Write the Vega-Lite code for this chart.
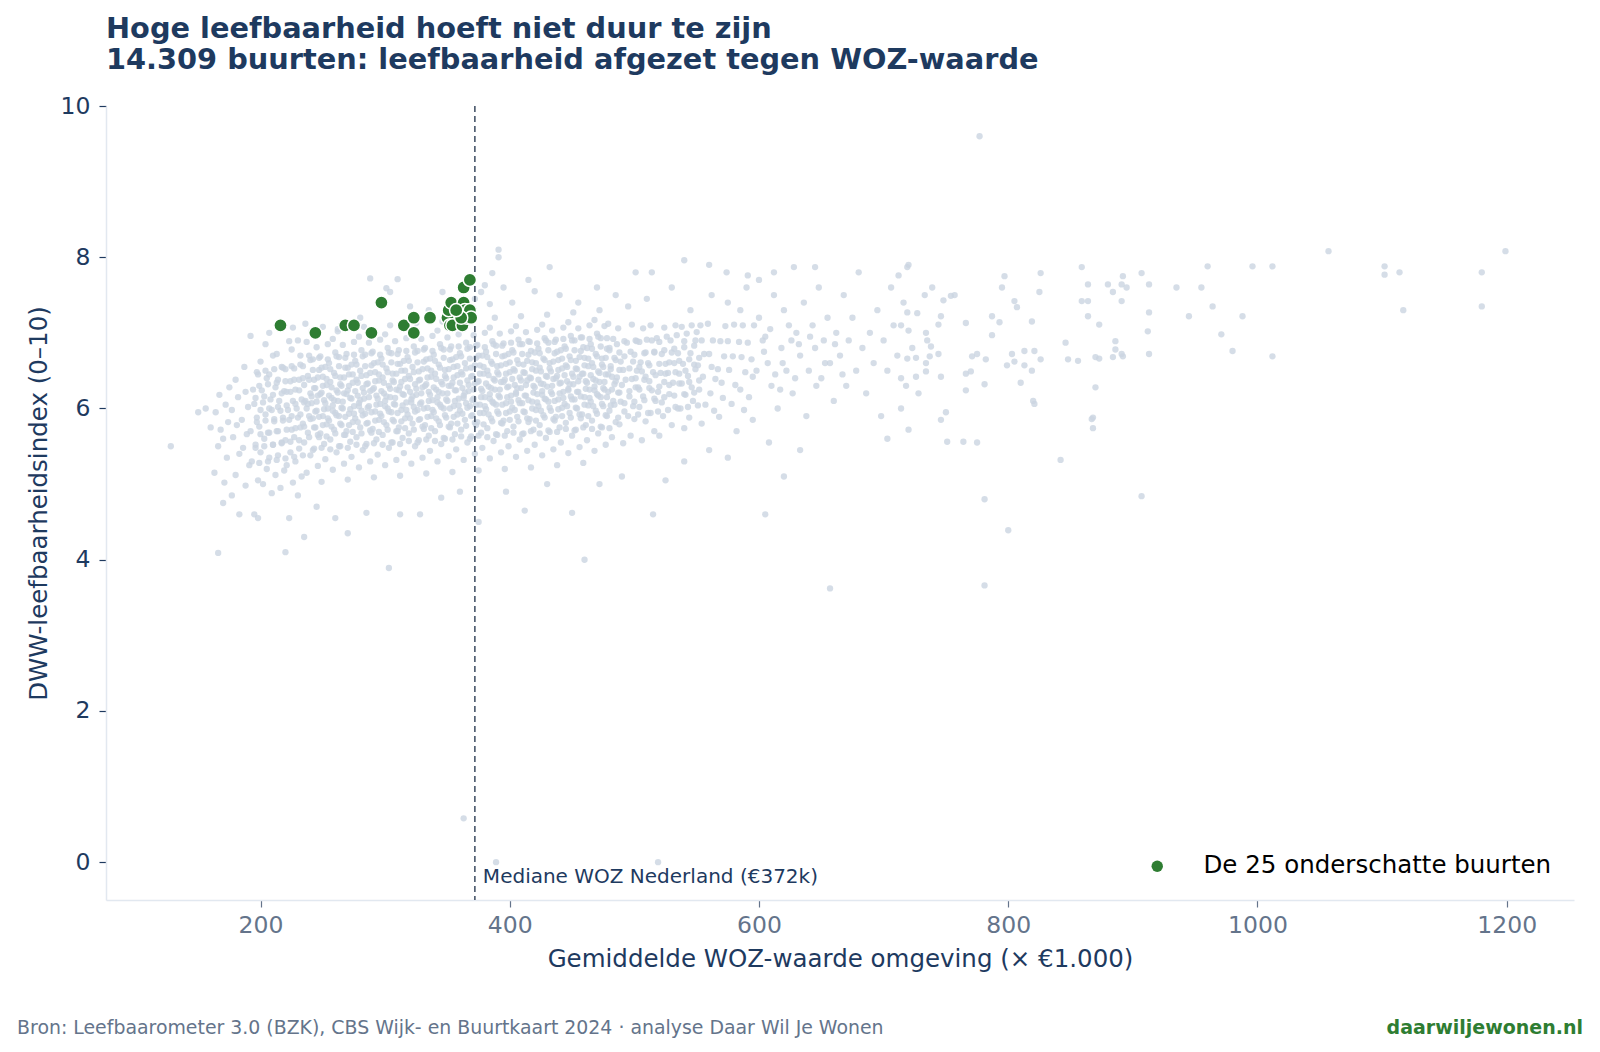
{
"$schema":"https://vega.github.io/schema/vega-lite/v6.json",
"background":"white",
"padding":{"left":17,"top":15,"right":8,"bottom":6},
"config":{"font":"DejaVu Sans","view":{"stroke":null},"axis":{"grid":false,"domainColor":"#e2e8f0","domainWidth":1.5,"tickSize":7,"tickWidth":1.2,"labelFont":"DejaVu Sans","titleFont":"DejaVu Sans","titleFontWeight":"normal"},"legend":{"labelFontSize":24.5,"labelColor":"#000000","labelFont":"DejaVu Sans","symbolSize":130,"symbolType":"circle","symbolStrokeWidth":0,"labelOffset":34,"offset":22,"padding":0,"labelLimit":600}},
"title":{"text":"Bron: Leefbaarometer 3.0 (BZK), CBS Wijk- en Buurtkaart 2024 · analyse Daar Wil Je Wonen","orient":"bottom","anchor":"start","frame":"bounds","fontSize":18.9,"fontWeight":"normal","color":"#64748b","offset":-19,"dx":-9},
"resolve":{"legend":{"color":"independent"}},
"vconcat":[{
"title":{"text":"daarwiljewonen.nl","orient":"bottom","anchor":"end","frame":"bounds","fontSize":19,"fontWeight":"bold","color":"#2e7d32","offset":48,"dx":9},
"resolve":{"legend":{"color":"independent"}},
"vconcat":[{
"title":{"text":["Hoge leefbaarheid hoeft niet duur te zijn","14.309 buurten: leefbaarheid afgezet tegen WOZ-waarde"],"anchor":"start","frame":"group","fontSize":28.8,"fontWeight":"bold","color":"#1e3a5f","lineHeight":31,"offset":19},
"width":1468,"height":794,
"layer":[
{"data":{"values":[
{"woz":163,"lb":5.15},{"woz":166,"lb":5.5},{"woz":168,"lb":5.72},{"woz":164,"lb":5.95},{"woz":167,"lb":6.18},
{"woz":171,"lb":5.02},{"woz":173,"lb":5.35},{"woz":170,"lb":5.6},{"woz":174,"lb":5.82},{"woz":172,"lb":6.05},{"woz":175,"lb":6.28},
{"woz":180,"lb":5.12},{"woz":183,"lb":5.4},{"woz":178,"lb":5.62},{"woz":181,"lb":5.78},{"woz":177,"lb":5.98},{"woz":182,"lb":6.15},{"woz":180,"lb":6.38},
{"woz":188,"lb":4.98},{"woz":191,"lb":5.25},{"woz":186,"lb":5.48},{"woz":189,"lb":5.66},{"woz":185,"lb":5.85},{"woz":190,"lb":6.02},{"woz":188,"lb":6.22},{"woz":187,"lb":6.55},
{"woz":195,"lb":4.6},{"woz":198,"lb":5.05},{"woz":193,"lb":5.3},{"woz":196,"lb":5.52},{"woz":192,"lb":5.7},{"woz":197,"lb":5.88},{"woz":195,"lb":6.06},{"woz":194,"lb":6.25},{"woz":198,"lb":6.45},
{"woz":202,"lb":5.0},{"woz":205,"lb":5.2},{"woz":200,"lb":5.42},{"woz":203,"lb":5.6},{"woz":199,"lb":5.76},{"woz":204,"lb":5.92},{"woz":202,"lb":6.08},{"woz":201,"lb":6.24},{"woz":205,"lb":6.4},{"woz":200,"lb":6.62},
{"woz":209,"lb":4.88},{"woz":212,"lb":5.12},{"woz":207,"lb":5.35},{"woz":210,"lb":5.52},{"woz":206,"lb":5.68},{"woz":211,"lb":5.83},{"woz":209,"lb":5.98},{"woz":208,"lb":6.12},{"woz":212,"lb":6.28},{"woz":207,"lb":6.45},{"woz":210,"lb":6.7},
{"woz":216,"lb":4.95},{"woz":219,"lb":5.18},{"woz":214,"lb":5.38},{"woz":217,"lb":5.55},{"woz":213,"lb":5.7},{"woz":218,"lb":5.84},{"woz":216,"lb":5.97},{"woz":215,"lb":6.1},{"woz":219,"lb":6.23},{"woz":214,"lb":6.38},{"woz":217,"lb":6.55},{"woz":213,"lb":6.72},
{"woz":223,"lb":4.55},{"woz":226,"lb":5.02},{"woz":221,"lb":5.25},{"woz":224,"lb":5.42},{"woz":220,"lb":5.58},{"woz":225,"lb":5.72},{"woz":223,"lb":5.85},{"woz":222,"lb":5.98},{"woz":226,"lb":6.1},{"woz":221,"lb":6.22},{"woz":224,"lb":6.36},{"woz":220,"lb":6.52},{"woz":225,"lb":6.78},
{"woz":230,"lb":4.85},{"woz":233,"lb":5.1},{"woz":228,"lb":5.3},{"woz":231,"lb":5.47},{"woz":227,"lb":5.62},{"woz":232,"lb":5.75},{"woz":230,"lb":5.88},{"woz":229,"lb":6.0},{"woz":233,"lb":6.12},{"woz":228,"lb":6.25},{"woz":231,"lb":6.38},{"woz":227,"lb":6.53},{"woz":232,"lb":6.7},{"woz":230,"lb":6.9},
{"woz":237,"lb":5.15},{"woz":240,"lb":5.38},{"woz":235,"lb":5.55},{"woz":238,"lb":5.68},{"woz":234,"lb":5.8},{"woz":239,"lb":5.9},{"woz":237,"lb":6.0},{"woz":236,"lb":6.1},{"woz":240,"lb":6.2},{"woz":235,"lb":6.31},{"woz":238,"lb":6.43},{"woz":234,"lb":6.56},{"woz":239,"lb":6.7},{"woz":237,"lb":6.88},
{"woz":246,"lb":5.24},{"woz":243,"lb":5.47},{"woz":247,"lb":5.62},{"woz":244,"lb":5.75},{"woz":242,"lb":5.87},{"woz":245,"lb":5.97},{"woz":241,"lb":6.07},{"woz":246,"lb":6.17},{"woz":244,"lb":6.27},{"woz":243,"lb":6.38},{"woz":247,"lb":6.51},{"woz":242,"lb":6.65},{"woz":245,"lb":6.81},{"woz":241,"lb":7.02},
{"woz":249,"lb":5.03},{"woz":252,"lb":5.33},{"woz":251,"lb":5.53},{"woz":248,"lb":5.67},{"woz":253,"lb":5.79},{"woz":250,"lb":5.9},{"woz":254,"lb":6.0},{"woz":251,"lb":6.11},{"woz":249,"lb":6.21},{"woz":253,"lb":6.31},{"woz":250,"lb":6.42},{"woz":252,"lb":6.55},{"woz":248,"lb":6.69},{"woz":254,"lb":6.85},
{"woz":258,"lb":5.19},{"woz":261,"lb":5.42},{"woz":256,"lb":5.59},{"woz":259,"lb":5.72},{"woz":255,"lb":5.84},{"woz":260,"lb":5.94},{"woz":258,"lb":6.04},{"woz":257,"lb":6.14},{"woz":261,"lb":6.24},{"woz":256,"lb":6.35},{"woz":259,"lb":6.47},{"woz":255,"lb":6.6},{"woz":260,"lb":6.74},{"woz":258,"lb":6.92},
{"woz":267,"lb":5.27},{"woz":264,"lb":5.5},{"woz":268,"lb":5.65},{"woz":265,"lb":5.78},{"woz":263,"lb":5.9},{"woz":266,"lb":6.0},{"woz":262,"lb":6.1},{"woz":267,"lb":6.2},{"woz":265,"lb":6.3},{"woz":264,"lb":6.41},{"woz":268,"lb":6.54},{"woz":263,"lb":6.68},{"woz":266,"lb":6.84},{"woz":262,"lb":7.05},
{"woz":270,"lb":5.06},{"woz":273,"lb":5.36},{"woz":272,"lb":5.56},{"woz":269,"lb":5.7},{"woz":274,"lb":5.82},{"woz":271,"lb":5.93},{"woz":275,"lb":6.03},{"woz":272,"lb":6.14},{"woz":270,"lb":6.24},{"woz":274,"lb":6.34},{"woz":271,"lb":6.45},{"woz":273,"lb":6.58},{"woz":269,"lb":6.72},{"woz":275,"lb":6.88},
{"woz":279,"lb":5.22},{"woz":282,"lb":5.45},{"woz":277,"lb":5.62},{"woz":280,"lb":5.75},{"woz":276,"lb":5.87},{"woz":281,"lb":5.97},{"woz":279,"lb":6.07},{"woz":278,"lb":6.17},{"woz":282,"lb":6.27},{"woz":277,"lb":6.38},{"woz":280,"lb":6.5},{"woz":276,"lb":6.63},{"woz":281,"lb":6.77},{"woz":279,"lb":6.95},
{"woz":288,"lb":5.3},{"woz":285,"lb":5.53},{"woz":289,"lb":5.68},{"woz":286,"lb":5.81},{"woz":284,"lb":5.93},{"woz":287,"lb":6.03},{"woz":283,"lb":6.13},{"woz":288,"lb":6.23},{"woz":286,"lb":6.33},{"woz":285,"lb":6.44},{"woz":289,"lb":6.57},{"woz":284,"lb":6.71},{"woz":287,"lb":6.87},{"woz":283,"lb":7.08},
{"woz":291,"lb":5.09},{"woz":294,"lb":5.39},{"woz":293,"lb":5.59},{"woz":290,"lb":5.73},{"woz":295,"lb":5.85},{"woz":292,"lb":5.96},{"woz":296,"lb":6.06},{"woz":293,"lb":6.17},{"woz":291,"lb":6.27},{"woz":295,"lb":6.37},{"woz":292,"lb":6.48},{"woz":294,"lb":6.61},{"woz":290,"lb":6.75},{"woz":296,"lb":6.91},
{"woz":300,"lb":5.25},{"woz":303,"lb":5.48},{"woz":298,"lb":5.65},{"woz":301,"lb":5.78},{"woz":297,"lb":5.9},{"woz":302,"lb":6.0},{"woz":300,"lb":6.1},{"woz":299,"lb":6.2},{"woz":303,"lb":6.3},{"woz":298,"lb":6.41},{"woz":301,"lb":6.53},{"woz":297,"lb":6.66},{"woz":302,"lb":6.8},{"woz":300,"lb":6.98},
{"woz":309,"lb":5.32},{"woz":306,"lb":5.55},{"woz":310,"lb":5.7},{"woz":307,"lb":5.83},{"woz":305,"lb":5.95},{"woz":308,"lb":6.05},{"woz":304,"lb":6.15},{"woz":309,"lb":6.25},{"woz":307,"lb":6.35},{"woz":306,"lb":6.46},{"woz":310,"lb":6.59},{"woz":305,"lb":6.73},{"woz":308,"lb":6.89},{"woz":304,"lb":7.1},
{"woz":312,"lb":5.11},{"woz":315,"lb":5.41},{"woz":314,"lb":5.61},{"woz":311,"lb":5.75},{"woz":316,"lb":5.87},{"woz":313,"lb":5.98},{"woz":317,"lb":6.08},{"woz":314,"lb":6.19},{"woz":312,"lb":6.29},{"woz":316,"lb":6.39},{"woz":313,"lb":6.5},{"woz":315,"lb":6.63},{"woz":311,"lb":6.77},{"woz":317,"lb":6.93},
{"woz":321,"lb":5.27},{"woz":324,"lb":5.5},{"woz":319,"lb":5.67},{"woz":322,"lb":5.8},{"woz":318,"lb":5.92},{"woz":323,"lb":6.02},{"woz":321,"lb":6.12},{"woz":320,"lb":6.22},{"woz":324,"lb":6.32},{"woz":319,"lb":6.43},{"woz":322,"lb":6.55},{"woz":318,"lb":6.68},{"woz":323,"lb":6.82},{"woz":321,"lb":7.0},
{"woz":330,"lb":5.35},{"woz":327,"lb":5.58},{"woz":331,"lb":5.73},{"woz":328,"lb":5.86},{"woz":326,"lb":5.98},{"woz":329,"lb":6.08},{"woz":325,"lb":6.18},{"woz":330,"lb":6.28},{"woz":328,"lb":6.38},{"woz":327,"lb":6.49},{"woz":331,"lb":6.62},{"woz":326,"lb":6.76},{"woz":329,"lb":6.92},{"woz":325,"lb":7.13},
{"woz":333,"lb":5.14},{"woz":336,"lb":5.44},{"woz":335,"lb":5.64},{"woz":332,"lb":5.78},{"woz":337,"lb":5.9},{"woz":334,"lb":6.01},{"woz":338,"lb":6.11},{"woz":335,"lb":6.22},{"woz":333,"lb":6.32},{"woz":337,"lb":6.42},{"woz":334,"lb":6.53},{"woz":336,"lb":6.66},{"woz":332,"lb":6.8},{"woz":338,"lb":6.96},
{"woz":342,"lb":5.3},{"woz":345,"lb":5.53},{"woz":340,"lb":5.7},{"woz":343,"lb":5.83},{"woz":339,"lb":5.95},{"woz":344,"lb":6.05},{"woz":342,"lb":6.15},{"woz":341,"lb":6.25},{"woz":345,"lb":6.35},{"woz":340,"lb":6.46},{"woz":343,"lb":6.58},{"woz":339,"lb":6.71},{"woz":344,"lb":6.85},{"woz":342,"lb":7.03},
{"woz":351,"lb":5.37},{"woz":348,"lb":5.6},{"woz":352,"lb":5.75},{"woz":349,"lb":5.88},{"woz":347,"lb":6.0},{"woz":350,"lb":6.1},{"woz":346,"lb":6.2},{"woz":351,"lb":6.3},{"woz":349,"lb":6.4},{"woz":348,"lb":6.51},{"woz":352,"lb":6.64},{"woz":347,"lb":6.78},{"woz":350,"lb":6.94},{"woz":346,"lb":7.15},
{"woz":354,"lb":5.16},{"woz":357,"lb":5.46},{"woz":356,"lb":5.66},{"woz":353,"lb":5.8},{"woz":358,"lb":5.92},{"woz":355,"lb":6.03},{"woz":359,"lb":6.13},{"woz":356,"lb":6.24},{"woz":354,"lb":6.34},{"woz":358,"lb":6.44},{"woz":355,"lb":6.55},{"woz":357,"lb":6.68},{"woz":353,"lb":6.82},{"woz":359,"lb":6.98},
{"woz":363,"lb":5.32},{"woz":366,"lb":5.55},{"woz":361,"lb":5.72},{"woz":364,"lb":5.85},{"woz":360,"lb":5.97},{"woz":365,"lb":6.07},{"woz":363,"lb":6.17},{"woz":362,"lb":6.27},{"woz":366,"lb":6.37},{"woz":361,"lb":6.48},{"woz":364,"lb":6.6},{"woz":360,"lb":6.73},{"woz":365,"lb":6.87},{"woz":363,"lb":7.05},
{"woz":372,"lb":5.4},{"woz":369,"lb":5.63},{"woz":373,"lb":5.78},{"woz":370,"lb":5.91},{"woz":368,"lb":6.03},{"woz":371,"lb":6.13},{"woz":367,"lb":6.23},{"woz":372,"lb":6.33},{"woz":370,"lb":6.43},{"woz":369,"lb":6.54},{"woz":373,"lb":6.67},{"woz":368,"lb":6.81},{"woz":371,"lb":6.97},{"woz":367,"lb":7.18},
{"woz":375,"lb":5.18},{"woz":378,"lb":5.48},{"woz":377,"lb":5.68},{"woz":374,"lb":5.82},{"woz":379,"lb":5.94},{"woz":376,"lb":6.05},{"woz":380,"lb":6.15},{"woz":377,"lb":6.26},{"woz":375,"lb":6.36},{"woz":379,"lb":6.46},{"woz":376,"lb":6.57},{"woz":378,"lb":6.7},{"woz":374,"lb":6.84},{"woz":380,"lb":7.0},
{"woz":384,"lb":5.34},{"woz":387,"lb":5.57},{"woz":382,"lb":5.74},{"woz":385,"lb":5.87},{"woz":381,"lb":5.99},{"woz":386,"lb":6.09},{"woz":384,"lb":6.19},{"woz":383,"lb":6.29},{"woz":387,"lb":6.39},{"woz":382,"lb":6.5},{"woz":385,"lb":6.62},{"woz":381,"lb":6.75},{"woz":386,"lb":6.89},{"woz":384,"lb":7.07},
{"woz":393,"lb":5.42},{"woz":390,"lb":5.65},{"woz":394,"lb":5.8},{"woz":391,"lb":5.93},{"woz":389,"lb":6.05},{"woz":392,"lb":6.15},{"woz":388,"lb":6.25},{"woz":393,"lb":6.35},{"woz":391,"lb":6.45},{"woz":390,"lb":6.56},{"woz":394,"lb":6.69},{"woz":389,"lb":6.83},{"woz":392,"lb":6.99},{"woz":388,"lb":7.2},
{"woz":396,"lb":5.2},{"woz":399,"lb":5.5},{"woz":398,"lb":5.7},{"woz":395,"lb":5.84},{"woz":400,"lb":5.96},{"woz":397,"lb":6.07},{"woz":401,"lb":6.17},{"woz":398,"lb":6.28},{"woz":396,"lb":6.38},{"woz":400,"lb":6.48},{"woz":397,"lb":6.59},{"woz":399,"lb":6.72},{"woz":395,"lb":6.86},{"woz":401,"lb":7.02},
{"woz":405,"lb":5.36},{"woz":408,"lb":5.59},{"woz":403,"lb":5.76},{"woz":406,"lb":5.89},{"woz":402,"lb":6.01},{"woz":407,"lb":6.11},{"woz":405,"lb":6.21},{"woz":404,"lb":6.31},{"woz":408,"lb":6.41},{"woz":403,"lb":6.52},{"woz":406,"lb":6.64},{"woz":402,"lb":6.77},{"woz":407,"lb":6.91},{"woz":405,"lb":7.09},
{"woz":414,"lb":5.44},{"woz":411,"lb":5.67},{"woz":415,"lb":5.82},{"woz":412,"lb":5.95},{"woz":410,"lb":6.07},{"woz":413,"lb":6.17},{"woz":409,"lb":6.27},{"woz":414,"lb":6.37},{"woz":412,"lb":6.47},{"woz":411,"lb":6.58},{"woz":415,"lb":6.71},{"woz":410,"lb":6.85},{"woz":413,"lb":7.01},{"woz":409,"lb":7.22},
{"woz":417,"lb":5.22},{"woz":420,"lb":5.52},{"woz":419,"lb":5.72},{"woz":416,"lb":5.86},{"woz":421,"lb":5.98},{"woz":418,"lb":6.09},{"woz":422,"lb":6.19},{"woz":419,"lb":6.3},{"woz":417,"lb":6.4},{"woz":421,"lb":6.5},{"woz":418,"lb":6.61},{"woz":420,"lb":6.74},{"woz":416,"lb":6.88},{"woz":422,"lb":7.04},
{"woz":426,"lb":5.38},{"woz":429,"lb":5.61},{"woz":424,"lb":5.78},{"woz":427,"lb":5.91},{"woz":423,"lb":6.03},{"woz":428,"lb":6.13},{"woz":426,"lb":6.23},{"woz":425,"lb":6.33},{"woz":429,"lb":6.43},{"woz":424,"lb":6.54},{"woz":427,"lb":6.66},{"woz":423,"lb":6.79},{"woz":428,"lb":6.93},{"woz":426,"lb":7.11},
{"woz":435,"lb":5.46},{"woz":432,"lb":5.69},{"woz":436,"lb":5.84},{"woz":433,"lb":5.97},{"woz":431,"lb":6.09},{"woz":434,"lb":6.19},{"woz":430,"lb":6.29},{"woz":435,"lb":6.39},{"woz":433,"lb":6.49},{"woz":432,"lb":6.6},{"woz":436,"lb":6.73},{"woz":431,"lb":6.87},{"woz":434,"lb":7.03},{"woz":430,"lb":7.24},
{"woz":438,"lb":5.25},{"woz":441,"lb":5.55},{"woz":440,"lb":5.75},{"woz":437,"lb":5.89},{"woz":442,"lb":6.01},{"woz":439,"lb":6.12},{"woz":443,"lb":6.22},{"woz":440,"lb":6.33},{"woz":438,"lb":6.43},{"woz":442,"lb":6.53},{"woz":439,"lb":6.64},{"woz":441,"lb":6.77},{"woz":437,"lb":6.91},{"woz":443,"lb":7.07},
{"woz":447,"lb":5.41},{"woz":450,"lb":5.64},{"woz":445,"lb":5.81},{"woz":448,"lb":5.94},{"woz":444,"lb":6.06},{"woz":449,"lb":6.16},{"woz":447,"lb":6.26},{"woz":446,"lb":6.36},{"woz":450,"lb":6.46},{"woz":445,"lb":6.57},{"woz":448,"lb":6.69},{"woz":444,"lb":6.82},{"woz":449,"lb":6.96},{"woz":447,"lb":7.14},
{"woz":456,"lb":5.49},{"woz":453,"lb":5.72},{"woz":457,"lb":5.87},{"woz":454,"lb":6.0},{"woz":452,"lb":6.12},{"woz":455,"lb":6.22},{"woz":451,"lb":6.32},{"woz":456,"lb":6.42},{"woz":454,"lb":6.52},{"woz":453,"lb":6.63},{"woz":457,"lb":6.76},{"woz":452,"lb":6.9},{"woz":455,"lb":7.06},{"woz":451,"lb":7.27},
{"woz":459,"lb":5.28},{"woz":462,"lb":5.58},{"woz":461,"lb":5.78},{"woz":458,"lb":5.92},{"woz":463,"lb":6.04},{"woz":460,"lb":6.15},{"woz":464,"lb":6.25},{"woz":461,"lb":6.36},{"woz":459,"lb":6.46},{"woz":463,"lb":6.56},{"woz":460,"lb":6.67},{"woz":462,"lb":6.8},{"woz":458,"lb":6.94},{"woz":464,"lb":7.1},
{"woz":468,"lb":5.44},{"woz":471,"lb":5.67},{"woz":466,"lb":5.84},{"woz":469,"lb":5.97},{"woz":465,"lb":6.09},{"woz":470,"lb":6.19},{"woz":468,"lb":6.29},{"woz":467,"lb":6.39},{"woz":471,"lb":6.49},{"woz":466,"lb":6.6},{"woz":469,"lb":6.72},{"woz":465,"lb":6.85},{"woz":470,"lb":6.99},{"woz":468,"lb":7.17},
{"woz":477,"lb":5.52},{"woz":474,"lb":5.75},{"woz":478,"lb":5.9},{"woz":475,"lb":6.03},{"woz":473,"lb":6.15},{"woz":476,"lb":6.25},{"woz":472,"lb":6.35},{"woz":477,"lb":6.45},{"woz":475,"lb":6.55},{"woz":474,"lb":6.66},{"woz":478,"lb":6.79},{"woz":473,"lb":6.93},{"woz":476,"lb":7.09},{"woz":472,"lb":7.3},
{"woz":482,"lb":5.62},{"woz":485,"lb":5.82},{"woz":480,"lb":5.97},{"woz":483,"lb":6.1},{"woz":479,"lb":6.22},{"woz":484,"lb":6.32},{"woz":482,"lb":6.42},{"woz":481,"lb":6.52},{"woz":485,"lb":6.64},{"woz":480,"lb":6.77},{"woz":483,"lb":6.92},{"woz":479,"lb":7.12},
{"woz":491,"lb":5.54},{"woz":488,"lb":5.79},{"woz":492,"lb":5.96},{"woz":489,"lb":6.09},{"woz":487,"lb":6.21},{"woz":490,"lb":6.31},{"woz":486,"lb":6.41},{"woz":491,"lb":6.51},{"woz":489,"lb":6.62},{"woz":488,"lb":6.74},{"woz":492,"lb":6.89},{"woz":487,"lb":7.06},
{"woz":497,"lb":5.64},{"woz":500,"lb":5.86},{"woz":499,"lb":6.03},{"woz":496,"lb":6.16},{"woz":501,"lb":6.28},{"woz":498,"lb":6.39},{"woz":502,"lb":6.5},{"woz":499,"lb":6.62},{"woz":497,"lb":6.75},{"woz":501,"lb":6.9},{"woz":498,"lb":7.11},
{"woz":506,"lb":5.58},{"woz":509,"lb":5.83},{"woz":504,"lb":6.02},{"woz":507,"lb":6.16},{"woz":503,"lb":6.28},{"woz":508,"lb":6.38},{"woz":506,"lb":6.49},{"woz":505,"lb":6.61},{"woz":509,"lb":6.74},{"woz":504,"lb":6.88},{"woz":507,"lb":7.06},
{"woz":516,"lb":5.7},{"woz":513,"lb":5.94},{"woz":517,"lb":6.1},{"woz":514,"lb":6.24},{"woz":512,"lb":6.36},{"woz":515,"lb":6.48},{"woz":511,"lb":6.6},{"woz":516,"lb":6.74},{"woz":514,"lb":6.9},{"woz":513,"lb":7.1},
{"woz":520,"lb":5.64},{"woz":523,"lb":5.9},{"woz":522,"lb":6.08},{"woz":519,"lb":6.22},{"woz":524,"lb":6.35},{"woz":521,"lb":6.47},{"woz":525,"lb":6.59},{"woz":522,"lb":6.72},{"woz":520,"lb":6.88},{"woz":524,"lb":7.07},
{"woz":530,"lb":5.78},{"woz":533,"lb":6.02},{"woz":528,"lb":6.19},{"woz":531,"lb":6.34},{"woz":527,"lb":6.47},{"woz":532,"lb":6.6},{"woz":530,"lb":6.74},{"woz":529,"lb":6.9},{"woz":533,"lb":7.1},
{"woz":540,"lb":5.74},{"woz":537,"lb":6.0},{"woz":541,"lb":6.18},{"woz":538,"lb":6.33},{"woz":536,"lb":6.46},{"woz":539,"lb":6.59},{"woz":535,"lb":6.73},{"woz":540,"lb":6.89},{"woz":538,"lb":7.08},
{"woz":544,"lb":5.88},{"woz":547,"lb":6.1},{"woz":546,"lb":6.28},{"woz":543,"lb":6.43},{"woz":548,"lb":6.58},{"woz":545,"lb":6.73},{"woz":549,"lb":6.9},{"woz":546,"lb":7.1},
{"woz":554,"lb":5.8},{"woz":557,"lb":6.05},{"woz":552,"lb":6.25},{"woz":555,"lb":6.42},{"woz":551,"lb":6.57},{"woz":556,"lb":6.72},{"woz":554,"lb":6.9},{"woz":553,"lb":7.1},
{"woz":564,"lb":5.97},{"woz":561,"lb":6.2},{"woz":565,"lb":6.39},{"woz":562,"lb":6.55},{"woz":560,"lb":6.72},{"woz":563,"lb":6.9},{"woz":559,"lb":7.12},
{"woz":568,"lb":5.89},{"woz":571,"lb":6.14},{"woz":570,"lb":6.34},{"woz":567,"lb":6.52},{"woz":572,"lb":6.69},{"woz":569,"lb":6.89},{"woz":573,"lb":7.09},
{"woz":578,"lb":6.06},{"woz":581,"lb":6.31},{"woz":576,"lb":6.51},{"woz":579,"lb":6.69},{"woz":575,"lb":6.89},{"woz":580,"lb":7.11},
{"woz":588,"lb":5.98},{"woz":585,"lb":6.25},{"woz":589,"lb":6.48},{"woz":586,"lb":6.68},{"woz":584,"lb":6.88},{"woz":587,"lb":7.1},
{"woz":592,"lb":6.15},{"woz":595,"lb":6.42},{"woz":594,"lb":6.65},{"woz":591,"lb":6.87},{"woz":596,"lb":7.1},
{"woz":199,"lb":5.28},{"woz":196,"lb":5.48},{"woz":200,"lb":5.66},{"woz":197,"lb":5.82},{"woz":200,"lb":5.98},{"woz":196,"lb":6.14},{"woz":199,"lb":6.3},{"woz":197,"lb":6.48},
{"woz":206,"lb":5.3},{"woz":203,"lb":5.5},{"woz":207,"lb":5.68},{"woz":204,"lb":5.84},{"woz":207,"lb":6.0},{"woz":203,"lb":6.16},{"woz":206,"lb":6.32},{"woz":204,"lb":6.5},
{"woz":213,"lb":5.32},{"woz":210,"lb":5.52},{"woz":214,"lb":5.7},{"woz":211,"lb":5.86},{"woz":214,"lb":6.02},{"woz":210,"lb":6.18},{"woz":213,"lb":6.34},{"woz":211,"lb":6.52},
{"woz":220,"lb":5.34},{"woz":217,"lb":5.54},{"woz":221,"lb":5.72},{"woz":218,"lb":5.88},{"woz":221,"lb":6.04},{"woz":217,"lb":6.2},{"woz":220,"lb":6.36},{"woz":218,"lb":6.54},
{"woz":227,"lb":5.36},{"woz":224,"lb":5.56},{"woz":228,"lb":5.74},{"woz":225,"lb":5.9},{"woz":228,"lb":6.06},{"woz":224,"lb":6.22},{"woz":227,"lb":6.38},{"woz":225,"lb":6.56},
{"woz":234,"lb":5.38},{"woz":231,"lb":5.58},{"woz":235,"lb":5.76},{"woz":232,"lb":5.92},{"woz":235,"lb":6.08},{"woz":231,"lb":6.24},{"woz":234,"lb":6.4},{"woz":232,"lb":6.58},
{"woz":242,"lb":5.45},{"woz":239,"lb":5.62},{"woz":243,"lb":5.75},{"woz":240,"lb":5.86},{"woz":244,"lb":5.96},{"woz":238,"lb":6.06},{"woz":241,"lb":6.16},{"woz":243,"lb":6.27},{"woz":239,"lb":6.38},{"woz":242,"lb":6.51},{"woz":240,"lb":6.64},
{"woz":249,"lb":5.48},{"woz":246,"lb":5.65},{"woz":250,"lb":5.78},{"woz":247,"lb":5.89},{"woz":251,"lb":5.99},{"woz":245,"lb":6.09},{"woz":248,"lb":6.19},{"woz":250,"lb":6.3},{"woz":246,"lb":6.41},{"woz":249,"lb":6.54},{"woz":247,"lb":6.67},
{"woz":256,"lb":5.46},{"woz":253,"lb":5.63},{"woz":257,"lb":5.76},{"woz":254,"lb":5.87},{"woz":258,"lb":5.97},{"woz":252,"lb":6.07},{"woz":255,"lb":6.17},{"woz":257,"lb":6.28},{"woz":253,"lb":6.39},{"woz":256,"lb":6.52},{"woz":254,"lb":6.65},
{"woz":263,"lb":5.5},{"woz":260,"lb":5.67},{"woz":264,"lb":5.8},{"woz":261,"lb":5.91},{"woz":265,"lb":6.01},{"woz":259,"lb":6.11},{"woz":262,"lb":6.21},{"woz":264,"lb":6.32},{"woz":260,"lb":6.43},{"woz":263,"lb":6.56},{"woz":261,"lb":6.69},
{"woz":270,"lb":5.48},{"woz":267,"lb":5.65},{"woz":271,"lb":5.78},{"woz":268,"lb":5.89},{"woz":272,"lb":5.99},{"woz":266,"lb":6.09},{"woz":269,"lb":6.19},{"woz":271,"lb":6.3},{"woz":267,"lb":6.41},{"woz":270,"lb":6.54},{"woz":268,"lb":6.67},
{"woz":277,"lb":5.52},{"woz":274,"lb":5.69},{"woz":278,"lb":5.82},{"woz":275,"lb":5.93},{"woz":279,"lb":6.03},{"woz":273,"lb":6.13},{"woz":276,"lb":6.23},{"woz":278,"lb":6.34},{"woz":274,"lb":6.45},{"woz":277,"lb":6.58},{"woz":275,"lb":6.71},
{"woz":284,"lb":5.5},{"woz":281,"lb":5.67},{"woz":285,"lb":5.8},{"woz":282,"lb":5.91},{"woz":286,"lb":6.01},{"woz":280,"lb":6.11},{"woz":283,"lb":6.21},{"woz":285,"lb":6.32},{"woz":281,"lb":6.43},{"woz":284,"lb":6.56},{"woz":282,"lb":6.69},
{"woz":291,"lb":5.54},{"woz":288,"lb":5.71},{"woz":292,"lb":5.84},{"woz":289,"lb":5.95},{"woz":293,"lb":6.05},{"woz":287,"lb":6.15},{"woz":290,"lb":6.25},{"woz":292,"lb":6.36},{"woz":288,"lb":6.47},{"woz":291,"lb":6.6},{"woz":289,"lb":6.73},
{"woz":298,"lb":5.52},{"woz":295,"lb":5.69},{"woz":299,"lb":5.82},{"woz":296,"lb":5.93},{"woz":300,"lb":6.03},{"woz":294,"lb":6.13},{"woz":297,"lb":6.23},{"woz":299,"lb":6.34},{"woz":295,"lb":6.45},{"woz":298,"lb":6.58},{"woz":296,"lb":6.71},
{"woz":305,"lb":5.55},{"woz":302,"lb":5.72},{"woz":306,"lb":5.85},{"woz":303,"lb":5.96},{"woz":307,"lb":6.06},{"woz":301,"lb":6.16},{"woz":304,"lb":6.26},{"woz":306,"lb":6.37},{"woz":302,"lb":6.48},{"woz":305,"lb":6.61},{"woz":303,"lb":6.74},
{"woz":312,"lb":5.53},{"woz":309,"lb":5.7},{"woz":313,"lb":5.83},{"woz":310,"lb":5.94},{"woz":314,"lb":6.04},{"woz":308,"lb":6.14},{"woz":311,"lb":6.24},{"woz":313,"lb":6.35},{"woz":309,"lb":6.46},{"woz":312,"lb":6.59},{"woz":310,"lb":6.72},
{"woz":319,"lb":5.57},{"woz":316,"lb":5.74},{"woz":320,"lb":5.87},{"woz":317,"lb":5.98},{"woz":321,"lb":6.08},{"woz":315,"lb":6.18},{"woz":318,"lb":6.28},{"woz":320,"lb":6.39},{"woz":316,"lb":6.5},{"woz":319,"lb":6.63},{"woz":317,"lb":6.76},
{"woz":326,"lb":5.55},{"woz":323,"lb":5.72},{"woz":327,"lb":5.85},{"woz":324,"lb":5.96},{"woz":328,"lb":6.06},{"woz":322,"lb":6.16},{"woz":325,"lb":6.26},{"woz":327,"lb":6.37},{"woz":323,"lb":6.48},{"woz":326,"lb":6.61},{"woz":324,"lb":6.74},
{"woz":333,"lb":5.59},{"woz":330,"lb":5.76},{"woz":334,"lb":5.89},{"woz":331,"lb":6.0},{"woz":335,"lb":6.1},{"woz":329,"lb":6.2},{"woz":332,"lb":6.3},{"woz":334,"lb":6.41},{"woz":330,"lb":6.52},{"woz":333,"lb":6.65},{"woz":331,"lb":6.78},
{"woz":340,"lb":5.57},{"woz":337,"lb":5.74},{"woz":341,"lb":5.87},{"woz":338,"lb":5.98},{"woz":342,"lb":6.08},{"woz":336,"lb":6.18},{"woz":339,"lb":6.28},{"woz":341,"lb":6.39},{"woz":337,"lb":6.5},{"woz":340,"lb":6.63},{"woz":338,"lb":6.76},
{"woz":347,"lb":5.61},{"woz":344,"lb":5.78},{"woz":348,"lb":5.91},{"woz":345,"lb":6.02},{"woz":349,"lb":6.12},{"woz":343,"lb":6.22},{"woz":346,"lb":6.32},{"woz":348,"lb":6.43},{"woz":344,"lb":6.54},{"woz":347,"lb":6.67},{"woz":345,"lb":6.8},
{"woz":354,"lb":5.59},{"woz":351,"lb":5.76},{"woz":355,"lb":5.89},{"woz":352,"lb":6.0},{"woz":356,"lb":6.1},{"woz":350,"lb":6.2},{"woz":353,"lb":6.3},{"woz":355,"lb":6.41},{"woz":351,"lb":6.52},{"woz":354,"lb":6.65},{"woz":352,"lb":6.78},
{"woz":361,"lb":5.63},{"woz":358,"lb":5.8},{"woz":362,"lb":5.93},{"woz":359,"lb":6.04},{"woz":363,"lb":6.14},{"woz":357,"lb":6.24},{"woz":360,"lb":6.34},{"woz":362,"lb":6.45},{"woz":358,"lb":6.56},{"woz":361,"lb":6.69},{"woz":359,"lb":6.82},
{"woz":368,"lb":5.6},{"woz":365,"lb":5.77},{"woz":369,"lb":5.9},{"woz":366,"lb":6.01},{"woz":370,"lb":6.11},{"woz":364,"lb":6.21},{"woz":367,"lb":6.31},{"woz":369,"lb":6.42},{"woz":365,"lb":6.53},{"woz":368,"lb":6.66},{"woz":366,"lb":6.79},
{"woz":375,"lb":5.64},{"woz":372,"lb":5.81},{"woz":376,"lb":5.94},{"woz":373,"lb":6.05},{"woz":377,"lb":6.15},{"woz":371,"lb":6.25},{"woz":374,"lb":6.35},{"woz":376,"lb":6.46},{"woz":372,"lb":6.57},{"woz":375,"lb":6.7},{"woz":373,"lb":6.83},
{"woz":382,"lb":5.62},{"woz":379,"lb":5.79},{"woz":383,"lb":5.92},{"woz":380,"lb":6.03},{"woz":384,"lb":6.13},{"woz":378,"lb":6.23},{"woz":381,"lb":6.33},{"woz":383,"lb":6.44},{"woz":379,"lb":6.55},{"woz":382,"lb":6.68},{"woz":380,"lb":6.81},
{"woz":389,"lb":5.66},{"woz":386,"lb":5.83},{"woz":390,"lb":5.96},{"woz":387,"lb":6.07},{"woz":391,"lb":6.17},{"woz":385,"lb":6.27},{"woz":388,"lb":6.37},{"woz":390,"lb":6.48},{"woz":386,"lb":6.59},{"woz":389,"lb":6.72},{"woz":387,"lb":6.85},
{"woz":396,"lb":5.64},{"woz":393,"lb":5.81},{"woz":397,"lb":5.94},{"woz":394,"lb":6.05},{"woz":398,"lb":6.15},{"woz":392,"lb":6.25},{"woz":395,"lb":6.35},{"woz":397,"lb":6.46},{"woz":393,"lb":6.57},{"woz":396,"lb":6.7},{"woz":394,"lb":6.83},
{"woz":403,"lb":5.68},{"woz":400,"lb":5.85},{"woz":404,"lb":5.98},{"woz":401,"lb":6.09},{"woz":405,"lb":6.19},{"woz":399,"lb":6.29},{"woz":402,"lb":6.39},{"woz":404,"lb":6.5},{"woz":400,"lb":6.61},{"woz":403,"lb":6.74},{"woz":401,"lb":6.87},
{"woz":410,"lb":5.66},{"woz":407,"lb":5.83},{"woz":411,"lb":5.96},{"woz":408,"lb":6.07},{"woz":412,"lb":6.17},{"woz":406,"lb":6.27},{"woz":409,"lb":6.37},{"woz":411,"lb":6.48},{"woz":407,"lb":6.59},{"woz":410,"lb":6.72},{"woz":408,"lb":6.85},
{"woz":417,"lb":5.7},{"woz":414,"lb":5.87},{"woz":418,"lb":6.0},{"woz":415,"lb":6.11},{"woz":419,"lb":6.21},{"woz":413,"lb":6.31},{"woz":416,"lb":6.41},{"woz":418,"lb":6.52},{"woz":414,"lb":6.63},{"woz":417,"lb":6.76},{"woz":415,"lb":6.89},
{"woz":424,"lb":5.67},{"woz":421,"lb":5.84},{"woz":425,"lb":5.97},{"woz":422,"lb":6.08},{"woz":426,"lb":6.18},{"woz":420,"lb":6.28},{"woz":423,"lb":6.38},{"woz":425,"lb":6.49},{"woz":421,"lb":6.6},{"woz":424,"lb":6.73},{"woz":422,"lb":6.86},
{"woz":431,"lb":5.71},{"woz":428,"lb":5.88},{"woz":432,"lb":6.01},{"woz":429,"lb":6.12},{"woz":433,"lb":6.22},{"woz":427,"lb":6.32},{"woz":430,"lb":6.42},{"woz":432,"lb":6.53},{"woz":428,"lb":6.64},{"woz":431,"lb":6.77},{"woz":429,"lb":6.9},
{"woz":438,"lb":5.69},{"woz":435,"lb":5.86},{"woz":439,"lb":5.99},{"woz":436,"lb":6.1},{"woz":440,"lb":6.2},{"woz":434,"lb":6.3},{"woz":437,"lb":6.4},{"woz":439,"lb":6.51},{"woz":435,"lb":6.62},{"woz":438,"lb":6.75},{"woz":436,"lb":6.88},
{"woz":445,"lb":5.73},{"woz":442,"lb":5.9},{"woz":446,"lb":6.03},{"woz":443,"lb":6.14},{"woz":447,"lb":6.24},{"woz":441,"lb":6.34},{"woz":444,"lb":6.44},{"woz":446,"lb":6.55},{"woz":442,"lb":6.66},{"woz":445,"lb":6.79},{"woz":443,"lb":6.92},
{"woz":452,"lb":5.71},{"woz":449,"lb":5.88},{"woz":453,"lb":6.01},{"woz":450,"lb":6.12},{"woz":454,"lb":6.22},{"woz":448,"lb":6.32},{"woz":451,"lb":6.42},{"woz":453,"lb":6.53},{"woz":449,"lb":6.64},{"woz":452,"lb":6.77},{"woz":450,"lb":6.9},
{"woz":459,"lb":5.75},{"woz":456,"lb":5.92},{"woz":460,"lb":6.05},{"woz":457,"lb":6.16},{"woz":461,"lb":6.26},{"woz":455,"lb":6.36},{"woz":458,"lb":6.46},{"woz":460,"lb":6.57},{"woz":456,"lb":6.68},{"woz":459,"lb":6.81},{"woz":457,"lb":6.94},
{"woz":466,"lb":5.73},{"woz":463,"lb":5.9},{"woz":467,"lb":6.03},{"woz":464,"lb":6.14},{"woz":468,"lb":6.24},{"woz":462,"lb":6.34},{"woz":465,"lb":6.44},{"woz":467,"lb":6.55},{"woz":463,"lb":6.66},{"woz":466,"lb":6.79},{"woz":464,"lb":6.92},
{"woz":473,"lb":5.76},{"woz":470,"lb":5.93},{"woz":474,"lb":6.06},{"woz":471,"lb":6.17},{"woz":475,"lb":6.27},{"woz":469,"lb":6.37},{"woz":472,"lb":6.47},{"woz":474,"lb":6.58},{"woz":470,"lb":6.69},{"woz":473,"lb":6.82},{"woz":471,"lb":6.95},
{"woz":480,"lb":5.74},{"woz":477,"lb":5.91},{"woz":481,"lb":6.04},{"woz":478,"lb":6.15},{"woz":482,"lb":6.25},{"woz":476,"lb":6.35},{"woz":479,"lb":6.45},{"woz":481,"lb":6.56},{"woz":477,"lb":6.67},{"woz":480,"lb":6.8},{"woz":478,"lb":6.93},
{"woz":487,"lb":5.88},{"woz":484,"lb":6.05},{"woz":488,"lb":6.21},{"woz":485,"lb":6.36},{"woz":488,"lb":6.51},{"woz":484,"lb":6.67},{"woz":486,"lb":6.85},
{"woz":495,"lb":5.9},{"woz":492,"lb":6.07},{"woz":496,"lb":6.23},{"woz":493,"lb":6.38},{"woz":496,"lb":6.53},{"woz":492,"lb":6.69},{"woz":494,"lb":6.87},
{"woz":503,"lb":5.92},{"woz":500,"lb":6.09},{"woz":504,"lb":6.25},{"woz":501,"lb":6.4},{"woz":504,"lb":6.55},{"woz":500,"lb":6.71},{"woz":502,"lb":6.89},
{"woz":511,"lb":5.94},{"woz":508,"lb":6.11},{"woz":512,"lb":6.27},{"woz":509,"lb":6.42},{"woz":512,"lb":6.57},{"woz":508,"lb":6.73},{"woz":510,"lb":6.91},
{"woz":519,"lb":5.96},{"woz":516,"lb":6.13},{"woz":520,"lb":6.29},{"woz":517,"lb":6.44},{"woz":520,"lb":6.59},{"woz":516,"lb":6.75},{"woz":518,"lb":6.93},
{"woz":527,"lb":5.98},{"woz":524,"lb":6.15},{"woz":528,"lb":6.31},{"woz":525,"lb":6.46},{"woz":528,"lb":6.61},{"woz":524,"lb":6.77},{"woz":526,"lb":6.95},
{"woz":535,"lb":6.0},{"woz":532,"lb":6.17},{"woz":536,"lb":6.33},{"woz":533,"lb":6.48},{"woz":536,"lb":6.63},{"woz":532,"lb":6.79},{"woz":534,"lb":6.97},
{"woz":543,"lb":6.02},{"woz":540,"lb":6.19},{"woz":544,"lb":6.35},{"woz":541,"lb":6.5},{"woz":544,"lb":6.65},{"woz":540,"lb":6.81},{"woz":542,"lb":6.99},
{"woz":551,"lb":6.04},{"woz":548,"lb":6.21},{"woz":552,"lb":6.37},{"woz":549,"lb":6.52},{"woz":552,"lb":6.67},{"woz":548,"lb":6.83},{"woz":550,"lb":7.01},
{"woz":128,"lb":5.5},{"woz":150,"lb":5.95},{"woz":156,"lb":6.0},{"woz":160,"lb":5.75},{"woz":166,"lb":4.09},{"woz":170,"lb":4.75},{"woz":177,"lb":4.85},{"woz":183,"lb":4.6},{"woz":198,"lb":4.55},{"woz":220,"lb":4.1},{"woz":235,"lb":4.3},{"woz":245,"lb":4.7},{"woz":260,"lb":4.55},{"woz":270,"lb":4.35},{"woz":285,"lb":4.62},{"woz":303,"lb":3.89},{"woz":312,"lb":4.6},{"woz":328,"lb":4.6},{"woz":345,"lb":4.82},{"woz":360,"lb":4.9},{"woz":363,"lb":0.58},{"woz":389,"lb":0.0},{"woz":375,"lb":4.5},{"woz":397,"lb":4.9},{"woz":412,"lb":4.65},{"woz":430,"lb":5.0},{"woz":450,"lb":4.62},{"woz":460,"lb":4.0},{"woz":472,"lb":5.0},{"woz":490,"lb":5.1},{"woz":519,"lb":0.0},{"woz":515,"lb":4.6},{"woz":525,"lb":5.05},{"woz":540,"lb":5.3},{"woz":560,"lb":5.45},{"woz":575,"lb":5.35},{"woz":605,"lb":4.6},{"woz":620,"lb":5.1},{"woz":633,"lb":5.45},{"woz":657,"lb":3.62},{"woz":781,"lb":3.66},{"woz":781,"lb":4.8},{"woz":800,"lb":4.39},{"woz":907,"lb":4.84},{"woz":842,"lb":5.32},{"woz":703,"lb":5.6},{"woz":720,"lb":5.72},{"woz":751,"lb":5.56},{"woz":764,"lb":5.56},{"woz":775,"lb":5.55},{"woz":868,"lb":5.74},{"woz":868,"lb":5.88},{"woz":820,"lb":6.1},{"woz":750,"lb":5.95},{"woz":777,"lb":9.6},
{"woz":192,"lb":6.96},{"woz":207,"lb":7.0},{"woz":204,"lb":6.85},{"woz":226,"lb":7.07},{"woz":223,"lb":6.89},{"woz":236,"lb":7.12},{"woz":250,"lb":7.08},{"woz":262,"lb":7.02},{"woz":280,"lb":7.2},{"woz":288,"lb":7.72},{"woz":301,"lb":7.59},{"woz":304,"lb":7.54},{"woz":310,"lb":7.71},{"woz":320,"lb":7.35},{"woz":335,"lb":7.3},{"woz":346,"lb":7.54},{"woz":372,"lb":7.45},{"woz":377,"lb":7.54},{"woz":380,"lb":7.63},{"woz":384,"lb":7.38},{"woz":386,"lb":7.79},{"woz":391,"lb":8.1},{"woz":391,"lb":8.0},{"woz":395,"lb":7.6},{"woz":402,"lb":7.4},{"woz":415,"lb":7.7},{"woz":420,"lb":7.55},{"woz":432,"lb":7.87},{"woz":440,"lb":7.5},{"woz":455,"lb":7.4},{"woz":470,"lb":7.6},{"woz":485,"lb":7.5},{"woz":495,"lb":7.35},{"woz":501,"lb":7.8},{"woz":510,"lb":7.45},{"woz":514,"lb":7.8},{"woz":530,"lb":7.6},{"woz":540,"lb":7.96},{"woz":545,"lb":7.3},{"woz":560,"lb":7.9},{"woz":562,"lb":7.5},{"woz":574,"lb":7.8},{"woz":575,"lb":7.4},{"woz":590,"lb":7.6},{"woz":591,"lb":7.76},{"woz":600,"lb":7.7},{"woz":612,"lb":7.8},{"woz":628,"lb":7.87},{"woz":645,"lb":7.87},
{"woz":582,"lb":5.7},{"woz":585,"lb":7.3},{"woz":595,"lb":5.85},{"woz":598,"lb":6.5},{"woz":605,"lb":6.95},{"woz":608,"lb":5.55},{"woz":617,"lb":6.25},{"woz":626,"lb":6.9},{"woz":604,"lb":6.75},{"woz":609,"lb":7.05},{"woz":613,"lb":6.45},{"woz":619,"lb":6.6},{"woz":624,"lb":7.1},{"woz":629,"lb":6.4},{"woz":632,"lb":6.85},{"woz":641,"lb":6.95},{"woz":646,"lb":6.3},{"woz":653,"lb":6.6},{"woz":661,"lb":6.85},{"woz":667,"lb":6.45},
{"woz":600,"lb":7.2},{"woz":603,"lb":6.9},{"woz":607,"lb":6.6},{"woz":610,"lb":6.3},{"woz":612,"lb":7.5},{"woz":615,"lb":6.0},{"woz":618,"lb":6.8},{"woz":620,"lb":7.3},{"woz":622,"lb":6.5},{"woz":627,"lb":6.2},{"woz":630,"lb":7.0},{"woz":633,"lb":6.7},{"woz":636,"lb":7.4},{"woz":638,"lb":5.9},{"woz":640,"lb":6.5},{"woz":643,"lb":7.1},{"woz":645,"lb":6.8},{"woz":648,"lb":7.6},{"woz":650,"lb":6.4},{"woz":652,"lb":6.9},{"woz":655,"lb":7.2},{"woz":657,"lb":6.6},{"woz":660,"lb":6.1},{"woz":662,"lb":7.0},{"woz":665,"lb":6.7},{"woz":668,"lb":7.5},{"woz":670,"lb":6.3},{"woz":672,"lb":6.9},{"woz":675,"lb":7.2},{"woz":678,"lb":6.5},{"woz":680,"lb":7.8},{"woz":683,"lb":6.8},{"woz":686,"lb":6.2},{"woz":689,"lb":7.0},{"woz":692,"lb":6.6},{"woz":695,"lb":7.3},{"woz":698,"lb":5.9},{"woz":700,"lb":6.9},{"woz":703,"lb":6.5},{"woz":706,"lb":7.6},{"woz":708,"lb":7.1},{"woz":711,"lb":6.7},{"woz":714,"lb":6.0},{"woz":716,"lb":7.4},{"woz":718,"lb":6.3},{"woz":720,"lb":7.9},{"woz":723,"lb":6.8},
{"woz":719,"lb":7.87},{"woz":712,"lb":7.76},{"woz":739,"lb":7.6},{"woz":733,"lb":7.5},{"woz":748,"lb":7.43},{"woz":754,"lb":7.49},{"woz":757,"lb":7.5},{"woz":719,"lb":7.27},{"woz":727,"lb":7.26},{"woz":714,"lb":7.1},{"woz":720,"lb":7.03},{"woz":746,"lb":7.22},{"woz":744,"lb":7.11},{"woz":734,"lb":7.0},{"woz":735,"lb":6.9},{"woz":738,"lb":6.82},{"woz":719,"lb":6.66},{"woz":726,"lb":6.67},{"woz":737,"lb":6.69},{"woz":744,"lb":6.72},{"woz":734,"lb":6.6},{"woz":734,"lb":6.49},{"woz":714,"lb":6.4},{"woz":726,"lb":6.42},{"woz":746,"lb":6.42},{"woz":728,"lb":6.2},{"woz":746,"lb":5.85},{"woz":766,"lb":7.13},{"woz":766,"lb":6.46},{"woz":766,"lb":6.24},{"woz":771,"lb":6.69},{"woz":775,"lb":6.72},{"woz":770,"lb":6.49},{"woz":781,"lb":6.32},{"woz":782,"lb":6.65},{"woz":787,"lb":7.22},{"woz":787,"lb":6.97},{"woz":793,"lb":7.14},{"woz":795,"lb":7.6},{"woz":797,"lb":7.75},{"woz":803,"lb":6.72},{"woz":799,"lb":6.57},{"woz":805,"lb":7.42},{"woz":807,"lb":7.34},{"woz":805,"lb":6.62},{"woz":810,"lb":6.34},{"woz":813,"lb":6.76},{"woz":813,"lb":6.57},{"woz":819,"lb":7.15},{"woz":821,"lb":6.76},{"woz":819,"lb":6.5},{"woz":821,"lb":6.06},{"woz":825,"lb":7.54},{"woz":826,"lb":7.79},{"woz":826,"lb":6.65},{"woz":846,"lb":6.87},{"woz":848,"lb":6.65},{"woz":856,"lb":6.63},{"woz":859,"lb":7.87},{"woz":859,"lb":7.42},{"woz":864,"lb":7.42},{"woz":864,"lb":7.64},{"woz":864,"lb":7.22},{"woz":870,"lb":6.68},{"woz":873,"lb":6.66},{"woz":873,"lb":7.11},{"woz":870,"lb":6.28},{"woz":867,"lb":5.86},{"woz":880,"lb":7.64},{"woz":884,"lb":7.54},{"woz":886,"lb":6.89},{"woz":886,"lb":6.78},{"woz":884,"lb":6.68},{"woz":891,"lb":7.64},{"woz":892,"lb":7.75},{"woz":895,"lb":7.6},{"woz":891,"lb":7.42},{"woz":891,"lb":6.72},{"woz":892,"lb":6.69},{"woz":907,"lb":7.79},{"woz":913,"lb":7.64},{"woz":913,"lb":7.27},{"woz":912,"lb":7.02},{"woz":913,"lb":6.72},{"woz":935,"lb":7.6},{"woz":945,"lb":7.22},{"woz":955,"lb":7.6},{"woz":960,"lb":7.88},{"woz":964,"lb":7.35},{"woz":971,"lb":6.98},{"woz":980,"lb":6.76},{"woz":988,"lb":7.22},{"woz":1057,"lb":8.08},{"woz":996,"lb":7.88},{"woz":1012,"lb":7.88},{"woz":1012,"lb":6.69},{"woz":1102,"lb":7.88},{"woz":1102,"lb":7.77},{"woz":1114,"lb":7.8},{"woz":1117,"lb":7.3},{"woz":1180,"lb":7.8},{"woz":1180,"lb":7.35},{"woz":1199,"lb":8.08}
]},
"mark":{"type":"circle","size":40,"color":"#cbd5e1","opacity":0.8},
"encoding":{
"x":{"field":"woz","type":"quantitative","scale":{"domain":[76,1254],"nice":false,"zero":false},"axis":{"values":[200,400,600,800,1000,1200],"format":"d","labelFontSize":23.5,"labelColor":"#64748b","tickColor":"#64748b","labelPadding":6,"title":"Gemiddelde WOZ-waarde omgeving (× €1.000)","titleFontSize":24.5,"titleColor":"#1e3a5f","titlePadding":11,"labelFlush":false}},
"y":{"field":"lb","type":"quantitative","scale":{"domain":[-0.5,10],"nice":false,"zero":false},"axis":{"values":[0,2,4,6,8,10],"format":"d","labelFontSize":23.5,"labelColor":"#1e3a5f","tickColor":"#1e3a5f","labelPadding":9,"title":"DWW-leefbaarheidsindex (0–10)","titleFontSize":24.5,"titleColor":"#1e3a5f","titlePadding":9}}
}},
{"data":{"values":[{"woz":372,"label":"Mediane WOZ Nederland (€372k)"}]},
"mark":{"type":"rule","color":"#475569","strokeWidth":1.6,"strokeDash":[6,4]},
"encoding":{"x":{"field":"woz","type":"quantitative"}}},
{"data":{"values":[{"woz":372,"label":"Mediane WOZ Nederland (€372k)"}]},
"mark":{"type":"text","align":"left","baseline":"middle","dx":8,"fontSize":20,"color":"#1e3a5f"},
"encoding":{"x":{"field":"woz","type":"quantitative"},"y":{"datum":-0.2},"text":{"field":"label"}}},
{"data":{"values":[
{"woz":216,"lb":7.1},{"woz":244,"lb":7.0},{"woz":268,"lb":7.1},{"woz":275,"lb":7.1},{"woz":289,"lb":7.0},{"woz":297,"lb":7.4},{"woz":315,"lb":7.1},{"woz":323,"lb":7.2},{"woz":323,"lb":7.0},{"woz":336,"lb":7.2},{"woz":350,"lb":7.2},{"woz":351,"lb":7.3},{"woz":352,"lb":7.1},{"woz":353,"lb":7.4},{"woz":354,"lb":7.1},{"woz":362,"lb":7.1},{"woz":363,"lb":7.6},{"woz":363,"lb":7.4},{"woz":364,"lb":7.3},{"woz":366,"lb":7.2},{"woz":368,"lb":7.7},{"woz":368,"lb":7.3},{"woz":369,"lb":7.2},{"woz":361,"lb":7.2},{"woz":357,"lb":7.3}
]},
"mark":{"type":"circle","size":175,"opacity":1,"stroke":"white","strokeWidth":1.5},
"encoding":{"x":{"field":"woz","type":"quantitative"},"y":{"field":"lb","type":"quantitative"},
"color":{"datum":"De 25 onderschatte buurten","type":"nominal","scale":{"range":["#2e7d32"]},"legend":{"title":null,"orient":"bottom-right"}}}}
]
}]
}]
}
